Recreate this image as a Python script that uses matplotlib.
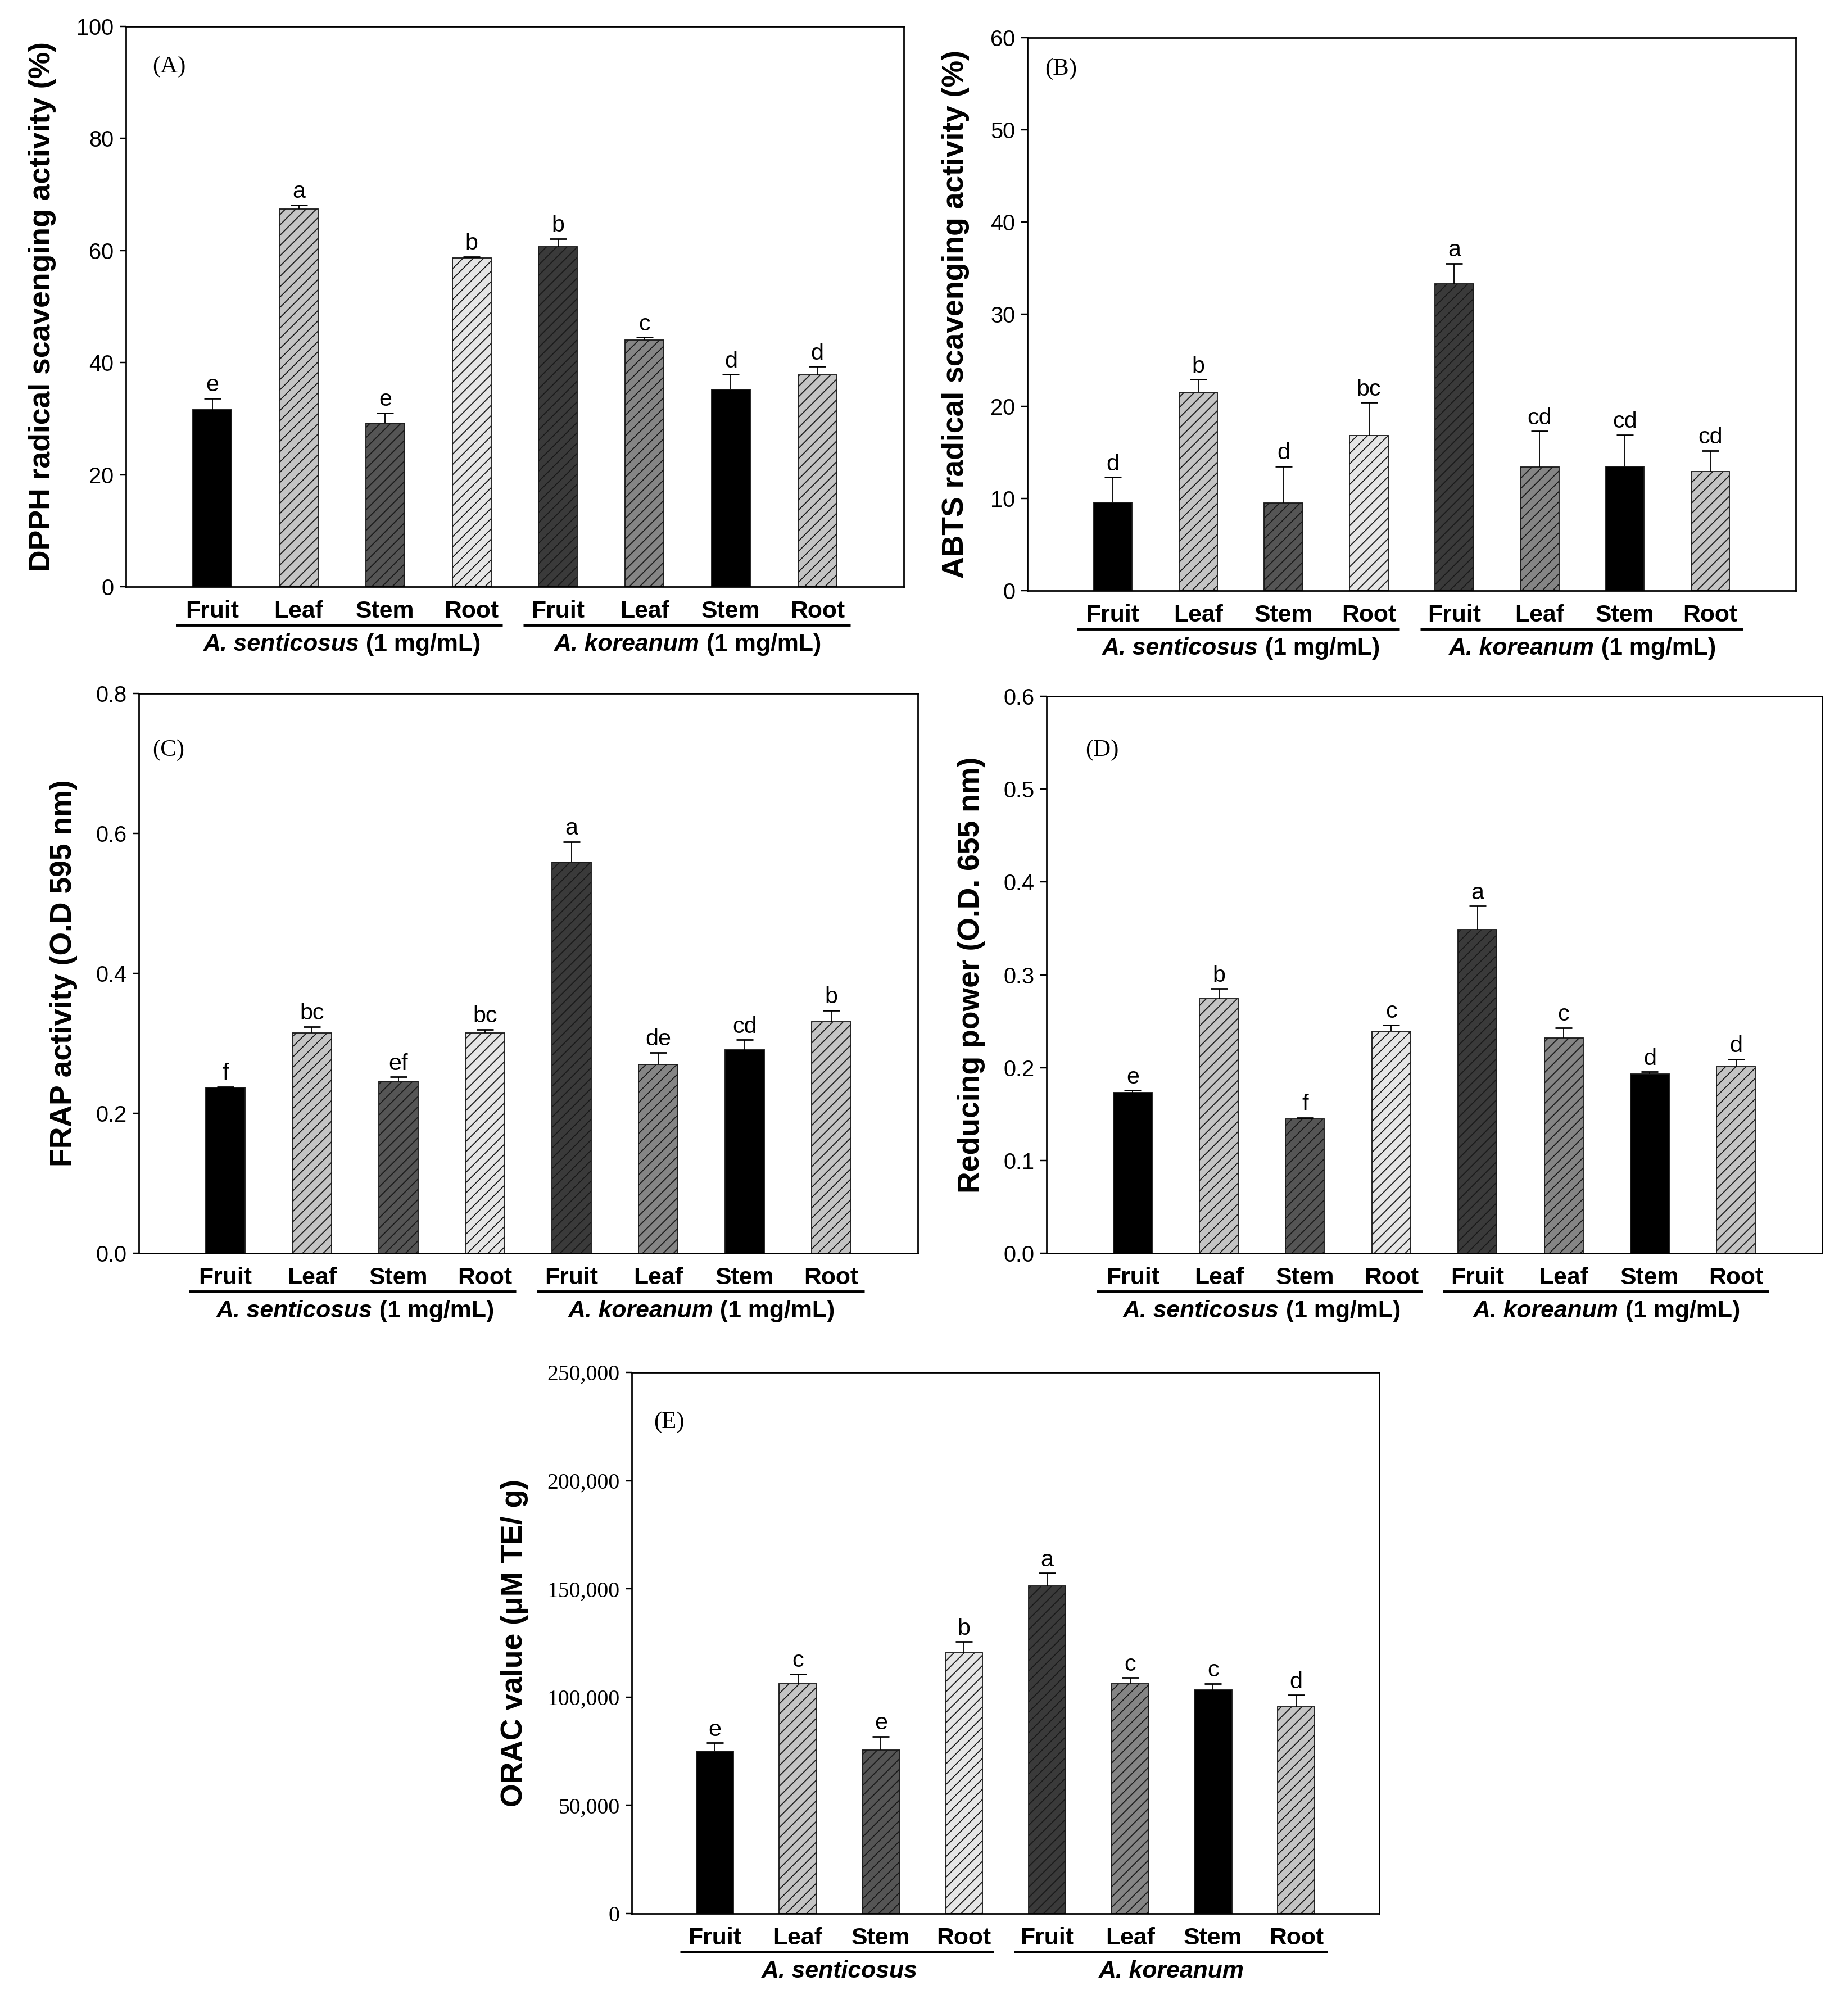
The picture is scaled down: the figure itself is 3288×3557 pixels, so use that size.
import numpy as np
import matplotlib
matplotlib.use("Agg")
import matplotlib.pyplot as plt
from matplotlib.transforms import offset_copy
from matplotlib.ticker import FuncFormatter

# ---------------- data ----------------
parts = ["Fruit", "Leaf", "Stem", "Root", "Fruit", "Leaf", "Stem", "Root"]

dpph_vals = [31.6, 67.4, 29.2, 58.7, 60.7, 44.0, 35.2, 37.8]
dpph_err = [2.0, 0.7, 1.8, 0.2, 1.4, 0.5, 2.7, 1.5]
dpph_let = ["e", "a", "e", "b", "b", "c", "d", "d"]

abts_vals = [9.6, 21.5, 9.5, 16.8, 33.3, 13.4, 13.5, 12.9]
abts_err = [2.7, 1.4, 4.0, 3.6, 2.2, 3.9, 3.4, 2.3]
abts_let = ["d", "b", "d", "bc", "a", "cd", "cd", "cd"]

frap_vals = [0.237, 0.315, 0.246, 0.315, 0.559, 0.270, 0.291, 0.331]
frap_err = [0.001, 0.009, 0.006, 0.005, 0.029, 0.017, 0.014, 0.016]
frap_let = ["f", "bc", "ef", "bc", "a", "de", "cd", "b"]

rp_vals = [0.173, 0.274, 0.145, 0.239, 0.349, 0.232, 0.193, 0.201]
rp_err = [0.0023, 0.011, 0.001, 0.007, 0.025, 0.011, 0.0023, 0.008]
rp_let = ["e", "b", "f", "c", "a", "c", "d", "d"]

orac_vals = [74900, 106300, 75500, 120400, 151400, 106300, 103400, 95500]
orac_err = [3900, 4400, 6400, 5200, 5800, 2700, 2900, 5400]
orac_let = ["e", "c", "e", "b", "a", "c", "c", "d"]

# ---------------- style ----------------
fills = ["#000000", "#c4c4c4", "#555555", "#e6e6e6",
         "#3a3a3a", "#858585", "#000000", "#c4c4c4"]
hatches = [None, "////", "////", "////", "////", "////", None, "////"]

plt.rcParams["font.family"] = ["Liberation Sans", "DejaVu Sans"]
plt.rcParams["hatch.linewidth"] = 0.6

W, H = 3288, 3557
DPI = 220
fig = plt.figure(figsize=(W / DPI, H / DPI), dpi=DPI)


def px_axes(x0, y0, x1, y1):
    return fig.add_axes([x0 / W, 1 - y1 / H, (x1 - x0) / W, (y1 - y0) / H])


pending = []


def panel(box, vals, errs, lets, ylim, yticks, ylabel, ylab_dx, tag, tag_dx, tag_dy,
          fmt, serif_ticks, groups):
    ax = px_axes(*box)
    x = np.arange(len(vals))
    for i in range(len(vals)):
        ax.bar(x[i], vals[i], width=0.45, color=fills[i], edgecolor="#1a1a1a",
               linewidth=0.6, hatch=hatches[i], zorder=2)
    eb = ax.errorbar(x, vals, yerr=[np.zeros(len(vals)), errs], fmt="none",
                     ecolor="black", elinewidth=0.6, capsize=4.8, capthick=0.9, zorder=3)
    for cl in eb[1]:
        if np.allclose(cl.get_ydata(), vals):
            cl.set_visible(False)
    for i in range(len(vals)):
        ax.annotate(lets[i], (x[i], vals[i] + errs[i]), xytext=(0, 1.5),
                    textcoords="offset points", ha="center", va="bottom",
                    fontsize=13.5, zorder=4)
    ax.set_xlim(-1, 8)
    ax.set_ylim(*ylim)
    ax.set_yticks(yticks)
    ax.yaxis.set_major_formatter(FuncFormatter(fmt))
    for lab in ax.get_yticklabels():
        pass
    ax.tick_params(axis="y", direction="out", length=3.5, width=0.8, pad=3.5,
                   labelsize=13)
    if serif_ticks:
        for lab in ax.get_yticklabels():
            lab.set_family(["Liberation Serif", "DejaVu Serif"])
    ax.set_xticks(x)
    ax.set_xticklabels(parts, fontweight="bold", fontsize=14)
    ax.tick_params(axis="x", length=0, pad=8)
    for s in ax.spines.values():
        s.set_linewidth(0.9)
    axw = box[2] - box[0]
    axh = box[3] - box[1]
    ax.set_ylabel(ylabel, fontsize=17.5, fontweight="bold", va="center")
    ax.yaxis.set_label_coords(-ylab_dx / axw, 0.5)
    ax.text(tag_dx / axw, 1 - tag_dy / axh, tag, transform=ax.transAxes,
            ha="left", va="top", fontsize=14,
            family=["Liberation Serif", "DejaVu Serif"])
    # group underlines
    ul_trans = offset_copy(ax.get_xaxis_transform(), fig=fig, y=-68, units="dots")
    for (xa, xb) in [(-0.42, 3.36), (3.6, 7.38)]:
        ax.plot([xa, xb], [0, 0], color="black", lw=1.6, transform=ul_trans,
                clip_on=False, solid_capstyle="butt")
    for (xc, it, nm) in groups:
        base = offset_copy(ax.get_xaxis_transform(), fig=fig, y=-83, units="dots")
        t1 = ax.text(xc, 0, it, transform=base, ha="left", va="top",
                     fontsize=14, fontweight="bold", style="italic")
        t2 = None
        if nm:
            t2 = ax.text(xc, 0, nm, transform=base, ha="left", va="top",
                         fontsize=14, fontweight="bold")
        pending.append((ax, xc, t1, t2))
    return ax


fmt_int = lambda v, p: f"{v:.0f}"
fmt_1 = lambda v, p: f"{v:.1f}"
fmt_comma = lambda v, p: f"{v:,.0f}"

g_conc = [(1.5, "A. senticosus", " (1 mg/mL)"), (5.5, "A. koreanum", " (1 mg/mL)")]
g_plain = [(1.5, "A. senticosus", None), (5.5, "A. koreanum", None)]

panel((224, 47, 1608, 1044), dpph_vals, dpph_err, dpph_let, (0, 100), np.arange(0, 101, 20),
      "DPPH radical scavenging activity (%)", 149, "(A)", 47, 53, fmt_int, False, g_conc)
panel((1828, 67, 3195, 1051), abts_vals, abts_err, abts_let, (0, 60), np.arange(0, 61, 10),
      "ABTS radical scavenging activity (%)", 128, "(B)", 31, 36, fmt_int, False, g_conc)
panel((247, 1234, 1633, 2230), frap_vals, frap_err, frap_let, (0, 0.8),
      [0.0, 0.2, 0.4, 0.6, 0.8],
      "FRAP activity (O.D 595 nm)", 134, "(C)", 24, 81, fmt_1, False, g_conc)
panel((1862, 1239, 3242, 2230), rp_vals, rp_err, rp_let, (0, 0.6),
      [0.0, 0.1, 0.2, 0.3, 0.4, 0.5, 0.6],
      "Reducing power (O.D. 655 nm)", 134, "(D)", 69, 76, fmt_1, False, g_conc)
panel((1124, 2442, 2454, 3405), orac_vals, orac_err, orac_let, (0, 250000),
      np.arange(0, 250001, 50000),
      "ORAC value (\u03bcM TE/ g)", 209, "(E)", 39, 69, fmt_comma, True, g_plain)

# center the mixed-style group labels
fig.canvas.draw()
r = fig.canvas.get_renderer()
for ax, xc, t1, t2 in pending:
    w1 = t1.get_window_extent(r).width
    w2 = t2.get_window_extent(r).width if t2 is not None else 0.0
    tot = w1 + w2
    t1.set_transform(offset_copy(ax.get_xaxis_transform(), fig=fig, x=-tot / 2, y=-83, units="dots"))
    if t2 is not None:
        t2.set_transform(offset_copy(ax.get_xaxis_transform(), fig=fig, x=-tot / 2 + w1, y=-83, units="dots"))

fig.savefig("out.png", dpi=DPI, facecolor="white")
